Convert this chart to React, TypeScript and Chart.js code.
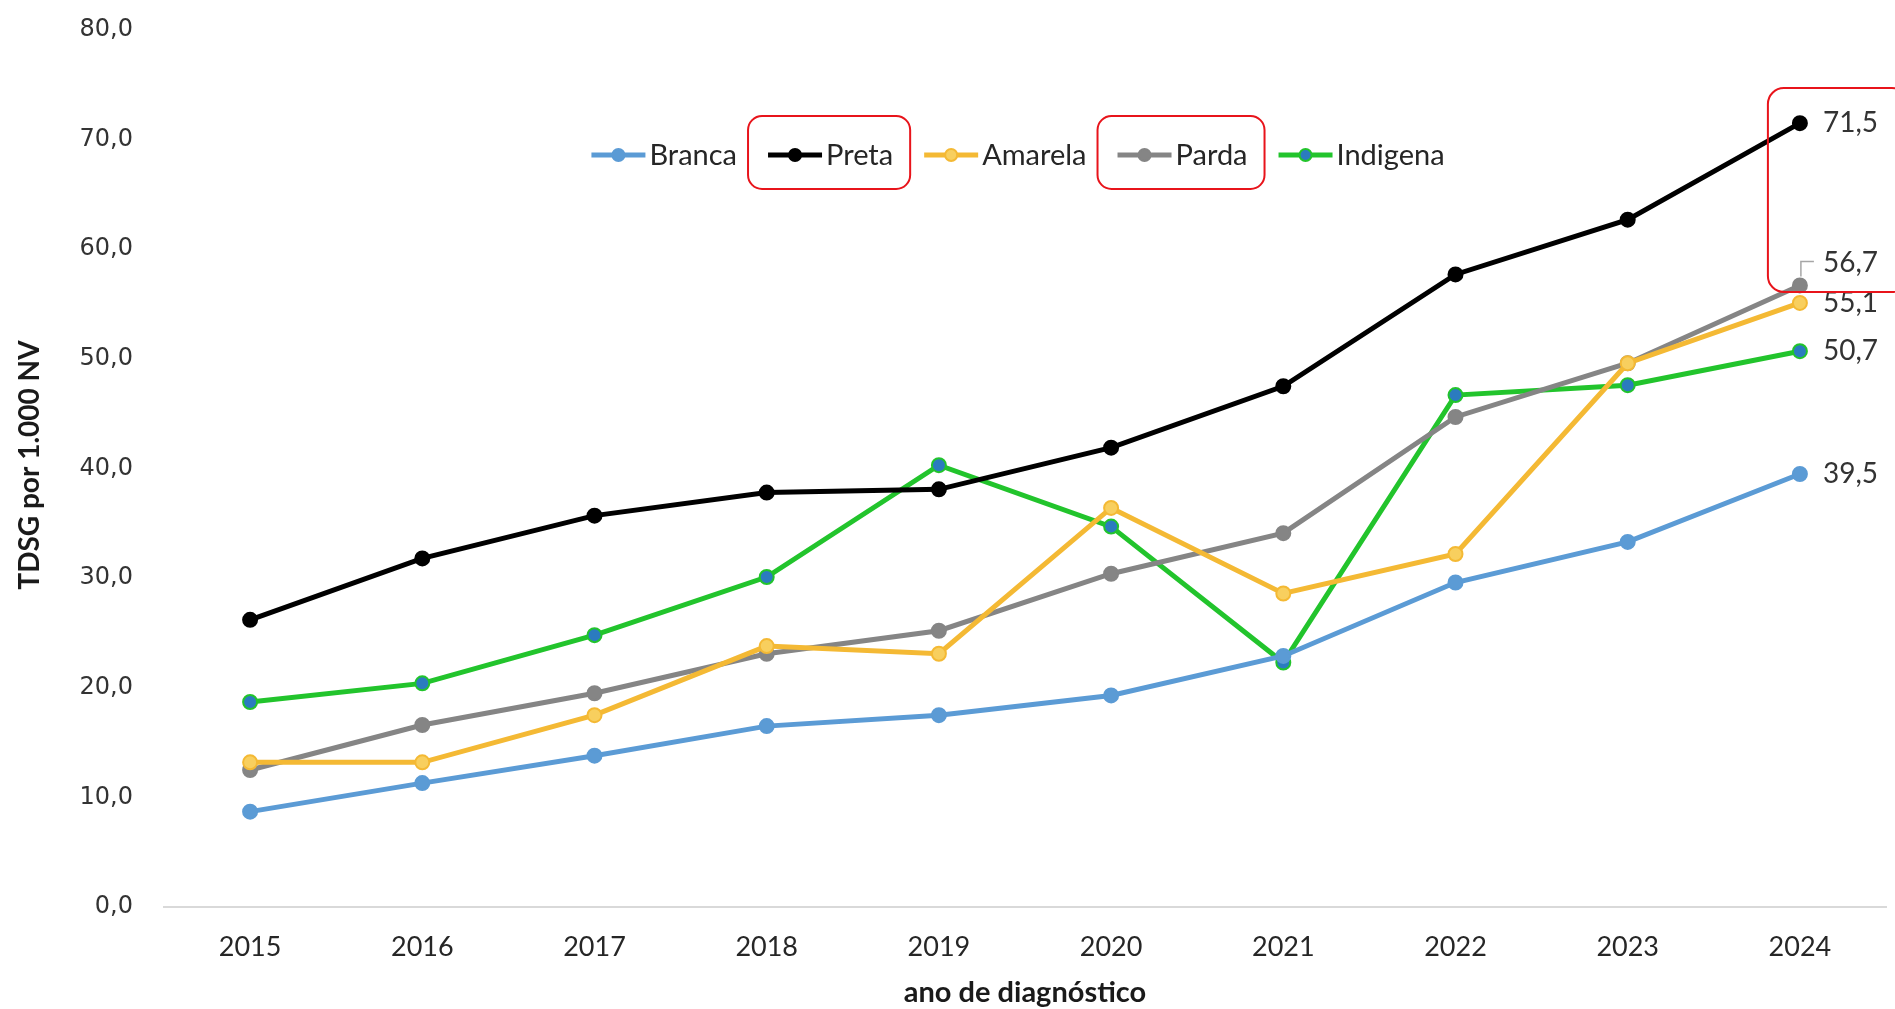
import React, { useEffect, useRef } from "react";
import { Chart, registerables } from "chart.js";

Chart.register(...registerables);

const years = ["2015", "2016", "2017", "2018", "2019", "2020", "2021", "2022", "2023", "2024"];
const seriesNames = ["Branca", "Preta", "Amarela", "Parda", "Indigena"];
const branca = [8.7, 11.3, 13.8, 16.5, 17.5, 19.3, 22.9, 29.6, 33.3, 39.5];
const preta = [26.2, 31.8, 35.7, 37.8, 38.1, 41.9, 47.5, 57.7, 62.7, 71.5];
const amarela = [13.2, 13.2, 17.5, 23.8, 23.1, 36.4, 28.6, 32.2, 49.6, 55.1];
const parda = [12.5, 16.6, 19.5, 23.1, 25.2, 30.4, 34.1, 44.7, 49.6, 56.7];
const indigena = [18.7, 20.4, 24.8, 30.1, 40.3, 34.7, 22.3, 46.7, 47.6, 50.7];
const yTicks = [0, 10, 20, 30, 40, 50, 60, 70, 80];
const yTitle = "TDSG por 1.000 NV";
const xTitle = "ano de diagnóstico";

const lineColors = ["#5b9bd5", "#000000", "#f4b934", "#858585", "#22c42c"];
const pointFills = ["#5b9bd5", "#000000", "#f8cf5e", "#858585", "#2b7bbf"];
const labelDy = [0, 0, 0, -22, 0];
const boxedLegend = [false, true, false, true, false];

const fmt = (v: number) => v.toFixed(1).replace(".", ",");

const overlayPlugin = {
  id: "overlay",
  afterDraw(chart: any) {
    const ctx = chart.ctx as CanvasRenderingContext2D;
    const xs = chart.scales.x;
    const ys = chart.scales.y;
    ctx.save();

    // end labels
    ctx.font = "28px Lato";
    ctx.fillStyle = "#333333";
    ctx.textAlign = "left";
    ctx.textBaseline = "middle";
    chart.data.datasets.forEach((ds: any, i: number) => {
      const last = ds.data.length - 1;
      const px = xs.getPixelForValue(last);
      const py = ys.getPixelForValue(ds.data[last]);
      ctx.fillText(fmt(ds.data[last]), px + 23, py + labelDy[i]);
      if (labelDy[i] !== 0) {
        ctx.strokeStyle = "#a6a6a6";
        ctx.lineWidth = 1.5;
        ctx.beginPath();
        ctx.moveTo(px + 1, py - 9);
        ctx.lineTo(px + 1, py + labelDy[i] - 2);
        ctx.lineTo(px + 14, py + labelDy[i] - 2);
        ctx.stroke();
      }
    });

    // legend
    ctx.font = "29px Lato";
    const lineLen = 54;
    const gap = 4;
    const spacing = 31;
    const widths = seriesNames.map((n) => lineLen + gap + ctx.measureText(n).width);
    const total = widths.reduce((a, b) => a + b, 0) + spacing * (seriesNames.length - 1);
    let x = 1018 - total / 2;
    const ly = 155;
    const boxes: number[][] = [];
    seriesNames.forEach((n, i) => {
      ctx.strokeStyle = lineColors[i];
      ctx.lineWidth = 5;
      ctx.beginPath();
      ctx.moveTo(x, ly);
      ctx.lineTo(x + lineLen, ly);
      ctx.stroke();
      ctx.beginPath();
      ctx.arc(x + lineLen / 2, ly, 6, 0, Math.PI * 2);
      ctx.fillStyle = pointFills[i];
      ctx.fill();
      ctx.lineWidth = 2;
      ctx.strokeStyle = lineColors[i];
      ctx.stroke();
      ctx.fillStyle = "#262626";
      ctx.textAlign = "left";
      ctx.textBaseline = "middle";
      ctx.fillText(n, x + lineLen + gap, ly + 1);
      if (boxedLegend[i]) boxes.push([x - 20, x + widths[i] + 17]);
      x += widths[i] + spacing;
    });

    // red highlight boxes
    ctx.strokeStyle = "#e8141b";
    ctx.lineWidth = 2;
    boxes.forEach(([l, r]) => {
      ctx.beginPath();
      ctx.roundRect(l, 116, r - l, 73, 14);
      ctx.stroke();
    });
    const lastX = xs.getPixelForValue(years.length - 1);
    ctx.beginPath();
    ctx.roundRect(lastX - 32, 88, 140, 204, 16);
    ctx.stroke();

    // axis titles
    ctx.fillStyle = "#1a1a1a";
    ctx.font = "bold 29px Lato";
    ctx.textAlign = "center";
    ctx.textBaseline = "middle";
    ctx.fillText(xTitle, (chart.chartArea.left + chart.chartArea.right) / 2, 993);
    ctx.translate(30, 465);
    ctx.rotate(-Math.PI / 2);
    ctx.font = "bold 28px Lato";
    ctx.fillText(yTitle, 0, 0);
    ctx.restore();
  },
};

export default function App() {
  const ref = useRef<HTMLCanvasElement | null>(null);
  useEffect(() => {
    const values = [branca, preta, amarela, parda, indigena];
    const chart = new Chart(ref.current as HTMLCanvasElement, {
      type: "line",
      data: {
        labels: years,
        datasets: seriesNames.map((n, i) => ({
          label: n,
          data: values[i],
          borderColor: lineColors[i],
          backgroundColor: pointFills[i],
          pointBackgroundColor: pointFills[i],
          pointBorderColor: lineColors[i],
          pointBorderWidth: 2,
          pointRadius: 7,
          borderWidth: 5,
          tension: 0,
          fill: false,
        })),
      },
      options: {
        animation: false,
        responsive: true,
        maintainAspectRatio: false,
        layout: { padding: { left: 0, right: 7, top: 30, bottom: 0 } },
        plugins: {
          legend: { display: false },
          tooltip: { enabled: false },
          title: { display: false },
        },
        scales: {
          x: {
            offset: true,
            grid: { display: false, drawTicks: false },
            border: { display: true, color: "#d9d9d9", width: 2 },
            ticks: {
              color: "#262626",
              font: { family: "Lato", size: 27 },
              padding: 24,
              maxRotation: 0,
            },
            afterFit: (s: any) => {
              s.height = 102;
            },
          },
          y: {
            min: 0,
            max: 80,
            afterBuildTicks: (s: any) => {
              s.ticks = yTicks.map((v) => ({ value: v }));
            },
            grid: {
              display: true,
              drawOnChartArea: false,
              drawTicks: true,
              tickLength: 31,
              tickColor: "rgba(0,0,0,0)",
              color: "rgba(0,0,0,0)",
            },
            border: { display: false },
            ticks: {
              color: "#333333",
              font: { family: "DejaVu Sans", size: 24 },
              padding: 0,
              callback: (v: any) => fmt(Number(v)),
            },
            afterFit: (s: any) => {
              s.width = 164;
            },
          },
        },
      },
      plugins: [overlayPlugin],
    });
    return () => chart.destroy();
  }, []);
  return (
    <div style={{ position: "absolute", left: 0, top: 0, width: 1895, height: 1009, background: "#fff" }}>
      <canvas ref={ref} />
    </div>
  );
}
